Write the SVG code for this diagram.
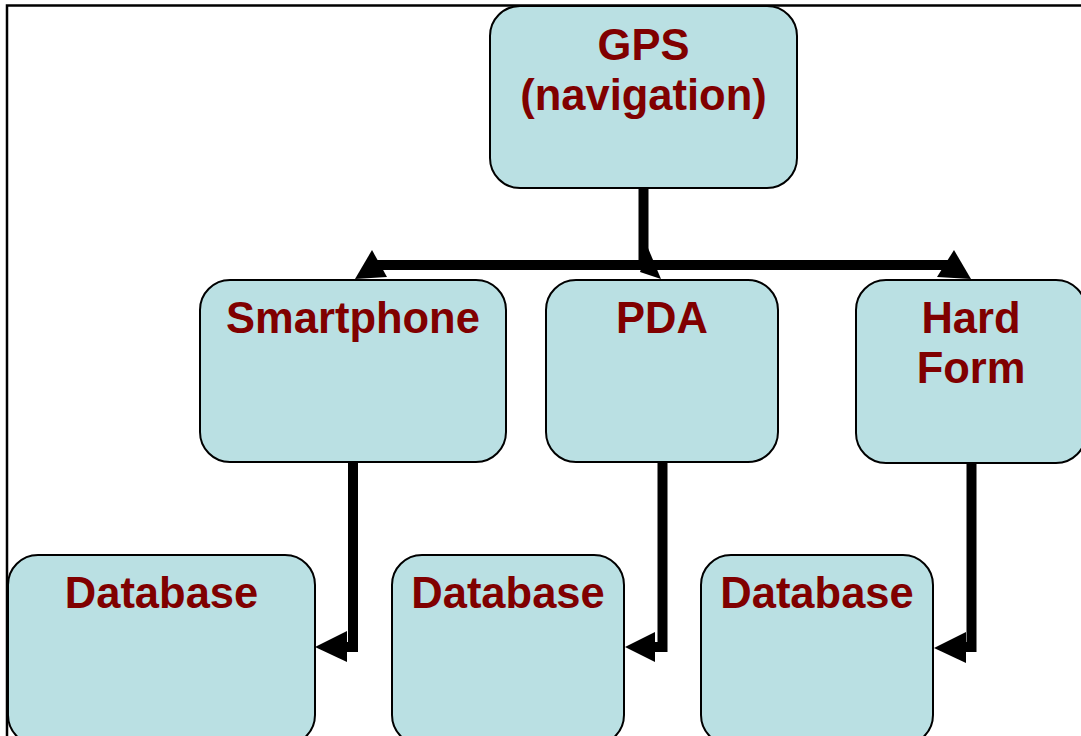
<svg xmlns="http://www.w3.org/2000/svg" width="1081" height="736" viewBox="0 0 1081 736">
<style>
.box{fill:#bae0e3;stroke:#000;stroke-width:2}
.lbl{font-family:"Liberation Sans",Arial,sans-serif;font-weight:bold;font-size:43.5px;fill:#800000;text-anchor:middle}
.wire{fill:none;stroke:#000;stroke-width:10;stroke-linejoin:miter}
.head{fill:#000}
</style>
<rect width="1081" height="736" fill="#fff"/>
<path d="M7 736 V5.5 H1081" fill="none" stroke="#000" stroke-width="2.5"/>
<g id="connectors">
<path class="wire" d="M643.5 188 V265"/>
<path class="wire" d="M372 265 H954"/>
<polygon class="head" points="372,250 355,279 387,277"/>
<polygon class="head" points="954,250 937,277 971,279"/>
<polygon class="head" points="648,248 640,272 661,279"/>
<path class="wire" d="M353 462 V647 H340"/>
<polygon class="head" points="315,647 347,631 347,662"/>
<path class="wire" d="M662.5 462 V647 H650"/>
<polygon class="head" points="625,647 655,632 655,662"/>
<path class="wire" d="M971.5 463 V647 H960"/>
<polygon class="head" points="934,648 966,632 966,663"/>
</g>
<g id="gps"><rect class="box" x="490" y="6" width="307" height="182" rx="30"/><text class="lbl" x="643.5" y="60">GPS</text><text class="lbl" x="643.5" y="110">(navigation)</text></g>
<g id="smartphone"><rect class="box" x="200" y="280" width="306" height="182" rx="30"/><text class="lbl" x="353" y="333">Smartphone</text></g>
<g id="pda"><rect class="box" x="546" y="280" width="232" height="182" rx="30"/><text class="lbl" x="662" y="333">PDA</text></g>
<g id="hardform"><rect class="box" x="856" y="280" width="230" height="183" rx="30"/><text class="lbl" x="971" y="333">Hard</text><text class="lbl" x="971" y="383">Form</text></g>
<g id="db1"><rect class="box" x="8" y="555" width="307" height="190" rx="30"/><text class="lbl" x="161.5" y="608">Database</text></g>
<g id="db2"><rect class="box" x="392" y="555" width="232" height="190" rx="30"/><text class="lbl" x="508" y="608">Database</text></g>
<g id="db3"><rect class="box" x="701" y="555" width="232" height="190" rx="30"/><text class="lbl" x="817" y="608">Database</text></g>
</svg>
